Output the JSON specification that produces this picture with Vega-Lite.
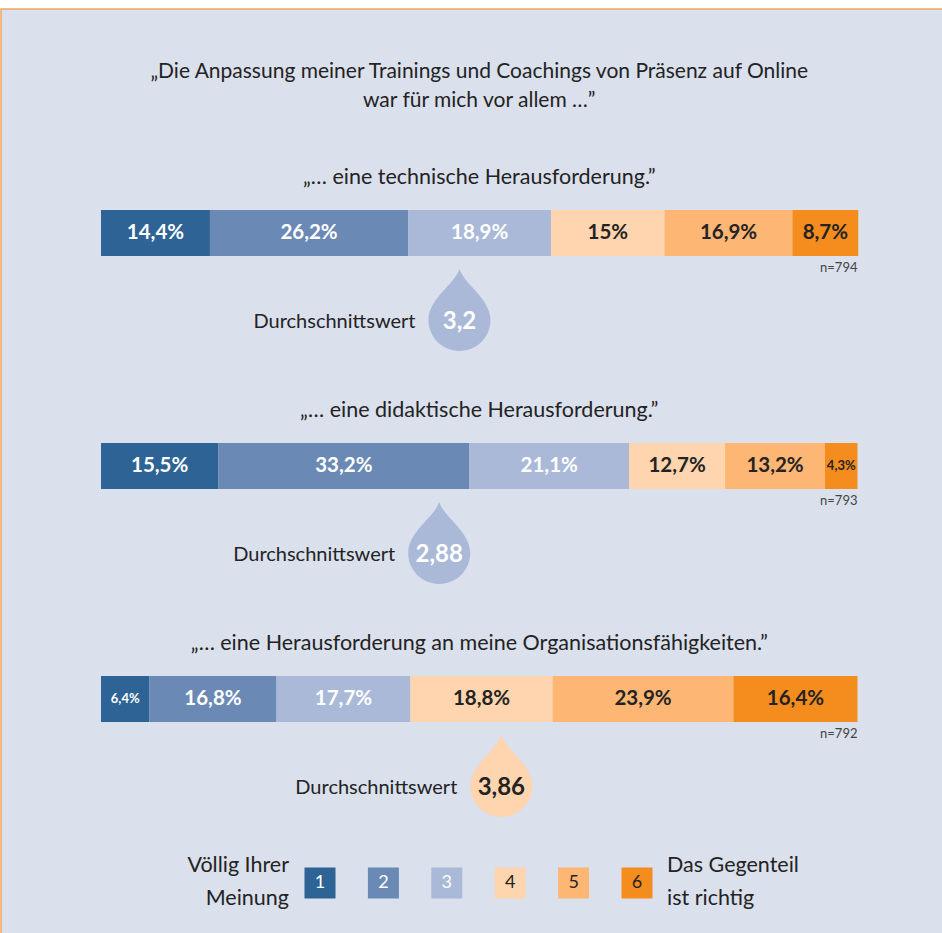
{
  "$schema": "https://vega.github.io/schema/vega-lite/v6.json",
  "width": 941,
  "height": 924,
  "autosize": {"type": "none"},
  "padding": {"left": 1, "top": 9, "right": 0, "bottom": 0},
  "background": "#ffffff",
  "config": {
    "view": {"fill": "#dae0ec", "stroke": "#f2a35b", "strokeWidth": 1.5, "strokeDash": [941, 1865, 924]},
    "font": "Lato",
    "locale": {"number": {"decimal": ",", "thousands": ".", "grouping": [3], "currency": ["", " €"]}},
    "text": {"color": "#232323"}
  },
  "datasets": {
    "bars": [
      {"q": "q1", "cat": 1, "pct": 14.4, "label": "14,4%"},
      {"q": "q1", "cat": 2, "pct": 26.2, "label": "26,2%"},
      {"q": "q1", "cat": 3, "pct": 18.9, "label": "18,9%"},
      {"q": "q1", "cat": 4, "pct": 15.0, "label": "15%"},
      {"q": "q1", "cat": 5, "pct": 16.9, "label": "16,9%"},
      {"q": "q1", "cat": 6, "pct": 8.7, "label": "8,7%"},
      {"q": "q2", "cat": 1, "pct": 15.5, "label": "15,5%"},
      {"q": "q2", "cat": 2, "pct": 33.2, "label": "33,2%"},
      {"q": "q2", "cat": 3, "pct": 21.1, "label": "21,1%"},
      {"q": "q2", "cat": 4, "pct": 12.7, "label": "12,7%"},
      {"q": "q2", "cat": 5, "pct": 13.2, "label": "13,2%"},
      {"q": "q2", "cat": 6, "pct": 4.3, "label": "4,3%"},
      {"q": "q3", "cat": 1, "pct": 6.4, "label": "6,4%"},
      {"q": "q3", "cat": 2, "pct": 16.8, "label": "16,8%"},
      {"q": "q3", "cat": 3, "pct": 17.7, "label": "17,7%"},
      {"q": "q3", "cat": 4, "pct": 18.8, "label": "18,8%"},
      {"q": "q3", "cat": 5, "pct": 23.9, "label": "23,9%"},
      {"q": "q3", "cat": 6, "pct": 16.4, "label": "16,4%"}
    ],
    "questions": [
      {"q": "q1", "title": "„… eine technische Herausforderung.”", "n": 794, "mean": 3.2},
      {"q": "q2", "title": "„… eine didaktische Herausforderung.”", "n": 793, "mean": 2.88},
      {"q": "q3", "title": "„… eine Herausforderung an meine Organisationsfähigkeiten.”", "n": 792, "mean": 3.86}
    ],
    "scale": [
      {"cat": 1}, {"cat": 2}, {"cat": 3}, {"cat": 4}, {"cat": 5}, {"cat": 6}
    ]
  },
  "resolve": {"scale": {"x": "independent"}},
  "layer": [
    {
      "data": {"name": "bars"},
      "mark": {"type": "bar"},
      "encoding": {
        "x": {"field": "pct", "type": "quantitative", "stack": "zero", "scale": {"domain": [0, 100], "range": [100, 856.5], "nice": false, "zero": false}, "axis": null},
        "y": {"field": "q", "type": "nominal", "scale": {"domain": ["q1", "q2", "q3"], "range": [201, 713], "paddingInner": 0.80258, "paddingOuter": 0}, "axis": null},
        "color": {"field": "cat", "type": "ordinal", "scale": {"domain": [1, 2, 3, 4, 5, 6], "range": ["#2e6396", "#6a8ab5", "#aab9d7", "#fed5ae", "#fdb673", "#f48c1e"]}, "legend": null},
        "order": {"field": "cat", "type": "quantitative"}
      }
    },
    {
      "data": {"name": "bars"},
      "mark": {"type": "text", "fontWeight": "bold", "baseline": "middle", "align": "center"},
      "encoding": {
        "x": {"field": "pct", "type": "quantitative", "stack": "zero", "bandPosition": 0.5, "scale": {"domain": [0, 100], "range": [100, 856.5], "nice": false, "zero": false}, "axis": null},
        "y": {"field": "q", "type": "nominal"},
        "detail": {"field": "cat", "type": "ordinal"},
        "order": {"field": "cat", "type": "quantitative"},
        "text": {"field": "label", "type": "nominal"},
        "color": {"condition": {"test": "datum.cat <= 3", "value": "#ffffff"}, "value": "#232323"},
        "size": {"condition": {"test": "datum.pct < 7", "value": 13}, "value": 20.5}
      }
    },
    {
      "data": {"values": [{"q": "q1", "text": "„Die Anpassung meiner Trainings und Coachings von Präsenz auf Online\nwar für mich vor allem …”"}]},
      "mark": {"type": "text", "lineBreak": "\n", "lineHeight": 29, "fontSize": 21, "baseline": "middle", "align": "center", "dy": -161},
      "encoding": {
        "x": {"datum": 50, "type": "quantitative", "scale": {"domain": [0, 100], "range": [100, 856.5], "nice": false, "zero": false}, "axis": null},
        "y": {"field": "q", "type": "nominal"},
        "text": {"field": "text", "type": "nominal"}
      }
    },
    {
      "data": {"name": "questions"},
      "mark": {"type": "text", "fontSize": 21.5, "baseline": "middle", "align": "center", "dy": -55},
      "encoding": {
        "x": {"datum": 50, "type": "quantitative", "scale": {"domain": [0, 100], "range": [100, 856.5], "nice": false, "zero": false}, "axis": null},
        "y": {"field": "q", "type": "nominal"},
        "text": {"field": "title", "type": "nominal"}
      }
    },
    {
      "data": {"name": "questions"},
      "mark": {"type": "text", "fontSize": 13, "baseline": "middle", "align": "right", "dy": 35, "color": "#444444", "text": {"expr": "'n=' + datum.n"}},
      "encoding": {
        "x": {"datum": 100, "type": "quantitative", "scale": {"domain": [0, 100], "range": [100, 856.5], "nice": false, "zero": false}, "axis": null},
        "y": {"field": "q", "type": "nominal"}
      }
    },
    {
      "data": {"name": "questions"},
      "mark": {"type": "point", "filled": true, "opacity": 1, "size": 6724, "yOffset": 77, "shape": "M0,-1 C0.12,-0.62 0.756,-0.28 0.756,0.244 C0.756,0.661 0.418,1 0,1 C-0.418,1 -0.756,0.661 -0.756,0.244 C-0.756,-0.28 -0.12,-0.62 0,-1 Z"},
      "encoding": {
        "x": {"field": "mean", "type": "quantitative", "scale": {"domain": [1, 6], "range": [319, 636], "nice": false, "zero": false}, "axis": null},
        "y": {"field": "q", "type": "nominal"},
        "color": {"condition": {"test": "datum.mean >= 3.5", "value": "#fed5ae"}, "value": "#aab9d7"}
      }
    },
    {
      "data": {"name": "questions"},
      "mark": {"type": "text", "fontSize": 24, "fontWeight": "bold", "baseline": "middle", "align": "center", "dy": 89},
      "encoding": {
        "x": {"field": "mean", "type": "quantitative", "scale": {"domain": [1, 6], "range": [319, 636], "nice": false, "zero": false}, "axis": null},
        "y": {"field": "q", "type": "nominal"},
        "text": {"field": "mean", "type": "quantitative", "format": "~g"},
        "color": {"condition": {"test": "datum.mean >= 3.5", "value": "#232323"}, "value": "#ffffff"}
      }
    },
    {
      "data": {"name": "questions"},
      "mark": {"type": "text", "fontSize": 20, "baseline": "middle", "align": "right", "dx": -44, "dy": 89, "text": "Durchschnittswert"},
      "encoding": {
        "x": {"field": "mean", "type": "quantitative", "scale": {"domain": [1, 6], "range": [319, 636], "nice": false, "zero": false}, "axis": null},
        "y": {"field": "q", "type": "nominal"}
      }
    },
    {
      "data": {"name": "scale"},
      "mark": {"type": "point", "shape": "square", "filled": true, "opacity": 1, "size": 961, "yOffset": 184},
      "encoding": {
        "x": {"field": "cat", "type": "quantitative", "scale": {"domain": [1, 6], "range": [319, 636], "nice": false, "zero": false}, "axis": null},
        "y": {"datum": "q3", "type": "nominal"},
        "color": {"field": "cat", "type": "ordinal", "legend": null}
      }
    },
    {
      "data": {"name": "scale"},
      "mark": {"type": "text", "fontSize": 18, "baseline": "middle", "align": "center", "dy": 184},
      "encoding": {
        "x": {"field": "cat", "type": "quantitative", "scale": {"domain": [1, 6], "range": [319, 636], "nice": false, "zero": false}, "axis": null},
        "y": {"datum": "q3", "type": "nominal"},
        "text": {"field": "cat", "type": "quantitative"},
        "color": {"condition": {"test": "datum.cat <= 3", "value": "#ffffff"}, "value": "#232323"}
      }
    },
    {
      "data": {"values": [{"cat": 1, "text": "Völlig Ihrer\nMeinung"}]},
      "mark": {"type": "text", "fontSize": 21.5, "lineBreak": "\n", "lineHeight": 33, "baseline": "middle", "align": "right", "dx": -31, "dy": 167},
      "encoding": {
        "x": {"field": "cat", "type": "quantitative", "scale": {"domain": [1, 6], "range": [319, 636], "nice": false, "zero": false}, "axis": null},
        "y": {"datum": "q3", "type": "nominal"},
        "text": {"field": "text", "type": "nominal"}
      }
    },
    {
      "data": {"values": [{"cat": 6, "text": "Das Gegenteil\nist richtig"}]},
      "mark": {"type": "text", "fontSize": 21.5, "lineBreak": "\n", "lineHeight": 33, "baseline": "middle", "align": "left", "dx": 30, "dy": 167},
      "encoding": {
        "x": {"field": "cat", "type": "quantitative", "scale": {"domain": [1, 6], "range": [319, 636], "nice": false, "zero": false}, "axis": null},
        "y": {"datum": "q3", "type": "nominal"},
        "text": {"field": "text", "type": "nominal"}
      }
    }
  ]
}
